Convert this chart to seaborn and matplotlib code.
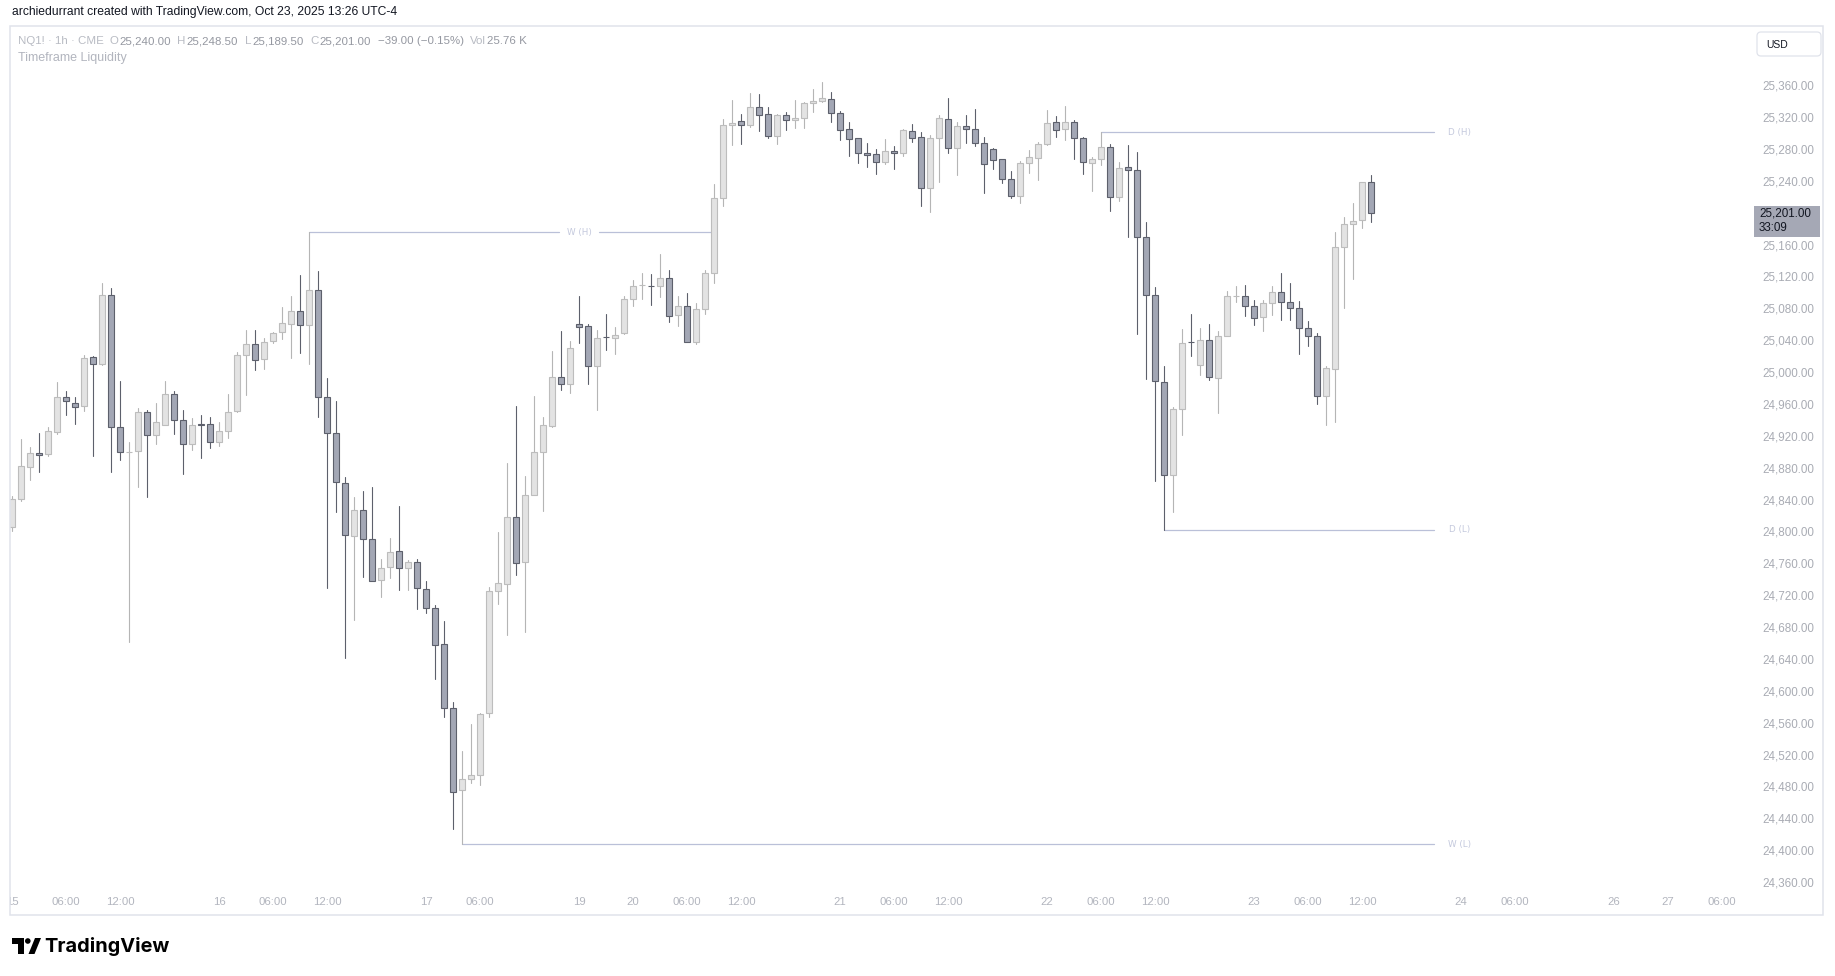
import numpy as np
import pandas as pd
import matplotlib
matplotlib.use("Agg")
import matplotlib.pyplot as plt
from matplotlib import font_manager
from matplotlib.patches import Rectangle, FancyBboxPatch, Polygon, Circle
from matplotlib.transforms import IdentityTransform
import seaborn as sns

# ---------------- data (NQ1! 1h, CME) ----------------
opens = [24807, 24842, 24883, 24900, 24899, 24926, 24970, 24962.5, 24959, 25020.5,
         25011.5, 25098, 24932.5, 24901.5, 24902.5, 24951.5, 24922.5, 24935, 24974, 24941.5,
         24911.5, 24937, 24936.5, 24914, 24927.5, 24952.5, 25023, 25036.5, 25018, 25040.5,
         25051.75, 25061.75, 25078, 25060.5, 25104.5, 24970.25, 24925, 24862.5, 24796, 24828.5,
         24791.75, 24740.75, 24757.5, 24777, 24756.5, 24763, 24730.25, 24705.5, 24660.5, 24580,
         24477, 24490.75, 24495.75, 24573.5, 24727, 24735.75, 24819.5, 24763.5, 24847.5, 24901,
         24933.75, 24995.25, 24986.25, 25062.5, 25059.25, 25009, 25045.5, 25044.25, 25051.25, 25093,
         25110.5, 25109.5, 25109.25, 25119.25, 25073, 25084.5, 25039.25, 25081.5, 25126.5, 25220,
         25311.5, 25316.5, 25311.5, 25334, 25325.25, 25297.75, 25324, 25317.75, 25320.25, 25339,
         25341.5, 25344, 25326.5, 25306.5, 25295.25, 25276.25, 25275, 25265, 25278.75, 25276.25,
         25304, 25296.5, 25232.5, 25295.25, 25319, 25282.5, 25310.25, 25306.5, 25289, 25281.5,
         25268.75, 25243.75, 25222.5, 25263.75, 25270, 25287.5, 25315.25, 25306.5, 25315.25, 25295.25,
         25263.75, 25268.75, 25283.75, 25222, 25258.75, 25255, 25171, 25098.25, 24989.25, 24872.5,
         24955.25, 25039.5, 25010.5, 25041.75, 24994.25, 25046.75, 25097, 25097, 25084.5, 25070.75,
         25088.25, 25102, 25089.5, 25082, 25057, 25046.75, 24971.5, 25005.5, 25158.5, 25187.25,
         25192.25, 25240]
highs = [24846, 24918, 24908, 24925, 24933, 24989.5, 24978, 24970.5, 25023.5, 25021.75,
         25113.5, 25107, 24990.5, 24913.5, 24957, 24954.5, 24963, 24990.5, 24978, 24954.5,
         24944.5, 24948, 24945.5, 24939.5, 24974.5, 25027, 25054, 25054.5, 25044, 25051.5,
         25083.5, 25097.25, 25123.75, 25177.5, 25128.75, 24994.5, 24965.5, 24870, 24845.5, 24852.25,
         24857.25, 24767, 24793.75, 24834, 24766, 24767, 24739.75, 24709, 24689.75, 24587.5,
         24526.5, 24560.25, 24573.5, 24732.25, 24801.25, 24887.5, 24959.5, 24871.75, 24972, 24945.5,
         25028.5, 25053.25, 25040.25, 25097.5, 25061.75, 25054.25, 25074.5, 25057.75, 25097.5, 25117.25,
         25126, 25124.25, 25150, 25130.5, 25097.5, 25100.75, 25088, 25129.5, 25238, 25319.5,
         25343.25, 25325.75, 25351.5, 25350.75, 25334, 25325.25, 25327.75, 25343.25, 25340.25, 25357,
         25365.75, 25352.75, 25329, 25315.25, 25295.5, 25289.25, 25281.5, 25294, 25285, 25306.5,
         25312.75, 25302.75, 25299, 25324, 25345.25, 25315.25, 25324, 25331.5, 25296.5, 25282.5,
         25269, 25253.75, 25266.25, 25280, 25290, 25330.25, 25322.75, 25335.25, 25317.75, 25296.5,
         25271.25, 25302.75, 25288, 25265.5, 25286.75, 25278, 25190.25, 25108.25, 25009.5, 24957.75,
         25056, 25074.75, 25057.25, 25062.25, 25053.5, 25103.75, 25110, 25111.25, 25092.5, 25092.5,
         25110, 25126.25, 25113.75, 25091.25, 25066, 25050.5, 25009.25, 25177.25, 25196, 25213.5,
         25238.75, 25248.5]
lows = [24802, 24840, 24867, 24876, 24897, 24924.5, 24948.5, 24937, 24953.5, 24896,
        25011, 24876, 24891, 24663, 24858, 24844.5, 24911, 24935, 24923.5, 24873.5,
        24904.5, 24894.5, 24906, 24909.5, 24918.5, 24952, 24972.5, 25004, 25005.5, 25038.75,
        25043.75, 25019.25, 25025.5, 25012.5, 24945.25, 24731.5, 24826, 24643, 24690.5, 24745.25,
        24739.25, 24719, 24743.75, 24728.75, 24728.75, 24705, 24700, 24616.25, 24569.5, 24428.75,
        24409.25, 24485.75, 24483.25, 24568.5, 24710.5, 24672.25, 24747.75, 24675.25, 24847, 24828,
        24933, 24978.75, 24975, 25038.75, 24986.25, 24954.5, 25030, 25025, 25049.75, 25084.5,
        25093.5, 25085.5, 25096, 25065, 25060.25, 25039, 25037, 25075, 25113.25, 25210.75,
        25287.25, 25288.5, 25309.75, 25304.75, 25295.25, 25288.5, 25306, 25308.5, 25308.5, 25328.5,
        25340.25, 25316, 25293.5, 25273.5, 25264.5, 25259.5, 25250.75, 25262.75, 25257, 25272.5,
        25290, 25210, 25202.5, 25240, 25276.25, 25248.75, 25289, 25285, 25227, 25256.25,
        25238.75, 25220, 25213.5, 25251.25, 25242.5, 25287, 25296.5, 25292.5, 25268.75, 25250,
        25229.5, 25262, 25204.5, 25217, 25171, 25049, 24992.5, 24865.75, 24804, 24825.75,
        24922.25, 25022.5, 24998.5, 24991.25, 24950, 25046.5, 25089.5, 25072.75, 25060.5, 25052.75,
        25074, 25067.75, 25067.75, 25024, 25034, 24961.5, 24936, 24939.75, 25082.75, 25118,
        25182, 25189.5]
closes = [24842, 24884, 24900, 24897.5, 24927.5, 24970.5, 24965, 24957.5, 25019, 25011.5,
          25098, 24932.5, 24901.5, 24901.5, 24951.5, 24922.5, 24939, 24974, 24941.5, 24911.5,
          24935, 24935, 24914, 24927.5, 24951.5, 25023, 25036.5, 25016.5, 25039, 25050.5,
          25063, 25078, 25060.5, 25104.5, 24970.25, 24925, 24863.75, 24797, 24828.5, 24792.25,
          24739.25, 24756.5, 24775.5, 24756.5, 24763, 24730.75, 24705.5, 24659.5, 24580, 24474.5,
          24490.75, 24495.75, 24572.5, 24727.75, 24737.25, 24820.5, 24762, 24847.5, 24901, 24935.25,
          24995.25, 24986.25, 25031.5, 25058.25, 25010, 25044.25, 25045.25, 25048.75, 25093, 25109.25,
          25111, 25109.25, 25119.25, 25072, 25084.5, 25039.25, 25081.5, 25126.5, 25220, 25311.5,
          25314, 25311.5, 25334, 25324, 25297.75, 25324, 25317.75, 25320.25, 25339, 25341.5,
          25345.25, 25326.5, 25305.25, 25294, 25276.25, 25273.75, 25265, 25278.75, 25276.25, 25305.25,
          25295.25, 25232.5, 25295.25, 25320.25, 25282.5, 25310.25, 25306.5, 25289, 25262.5, 25267.5,
          25243.75, 25222.5, 25263.75, 25271.25, 25287.5, 25314, 25305.25, 25315.25, 25295.25, 25265,
          25268.75, 25283.75, 25222, 25257.5, 25255, 25171, 25098.25, 24990.5, 24872.5, 24955.25,
          25038, 25039.25, 25041.75, 24995.5, 25046.75, 25097, 25097.25, 25084.5, 25069.5, 25088.25,
          25102, 25089.5, 25082, 25057, 25046.75, 24971.5, 25006.75, 25158.5, 25187.25, 25191,
          25240, 25201]

price_ticks = list(range(24360, 25361, 40))
time_tick_pos = [0, 6, 12, 23, 29, 35, 46, 52, 63, 69, 75, 81, 92, 98, 104,
                 115, 121, 127, 138, 144, 150, 161, 167, 178, 184, 190]
time_tick_labels = ["15", "06:00", "12:00", "16", "06:00", "12:00", "17", "06:00", "19",
                    "20", "06:00", "12:00", "21", "06:00", "12:00", "22", "06:00", "12:00",
                    "23", "06:00", "12:00", "24", "06:00", "26", "27", "06:00"]

level_names = ["W (H)", "W (L)", "D (H)", "D (L)"]
level_prices = [25177.5, 24409.25, 25302.75, 24804.0]
level_start_bar = [33, 50, 121, 128]
level_end_bar = [78, 158, 158, 158]
level_label_bar = [63, 160.8, 160.8, 160.8]

header_text = "archiedurrant created with TradingView.com, Oct 23, 2025 13:26 UTC-4"
legend_groups = [[("NQ1! · 1h · CME", "lab")],
                 [("O", "lab"), ("25,240.00", "val")],
                 [("H", "lab"), ("25,248.50", "val")],
                 [("L", "lab"), ("25,189.50", "val")],
                 [("C", "lab"), ("25,201.00", "val")],
                 [("−39.00 (−0.15%)", "val")],
                 [("Vol", "lab"), ("25.76 K", "val")]]
indicator_name = "Timeframe Liquidity"
last_price_text = "25,201.00"
countdown_text = "33:09"

# ---------------- style ----------------
sns.set_theme(style="white")
names = {f.name for f in font_manager.fontManager.ttflist}
UI = "Liberation Sans Narrow" if "Liberation Sans Narrow" in names else "Liberation Sans"
plt.rcParams["font.family"] = [UI, "DejaVu Sans"]

UP_FILL, UP_EDGE, UP_WICK = "#e3e3e3", "#bdbdbd", "#b5b5b5"
DN_FILL, DN_EDGE, DN_WICK = "#a3a7b5", "#5d606c", "#5d606c"
LVL_LINE, LVL_TEXT = "#bac0d8", "#c4c9dd"
AXIS_TXT = "#a9acb4"
DARK = "#131722"
BORDER = "#e0e3eb"

W, H = 1835, 976
def fx(x): return x / W
def fy(y): return 1 - y / H

fig = plt.figure(figsize=(W / 100, H / 100), dpi=100)
fig.patch.set_facecolor("white")
renderer = fig.canvas.get_renderer()

L_PX, R_PX, T_PX, B_PX = 10, 1746, 26, 887
BAR_PX, BAR0_PX = 9.0, 12.0
Y_REF_PX, Y_REF_P, PX_PER_PT = 86.6, 25360, 0.797
xlim = ((L_PX - BAR0_PX) / BAR_PX, (R_PX - BAR0_PX) / BAR_PX)
ylim = (Y_REF_P - (B_PX - Y_REF_PX) / PX_PER_PT, Y_REF_P + (Y_REF_PX - T_PX) / PX_PER_PT)

ax = fig.add_axes([fx(L_PX), fy(B_PX), (R_PX - L_PX) / W, (B_PX - T_PX) / H])
ax.set_facecolor("white")

o = np.array(opens, float); h = np.array(highs, float)
l = np.array(lows, float); c = np.array(closes, float)
idx = np.arange(len(o))
up = c >= o

# wicks drawn with seaborn
wick_df = pd.DataFrame({
    "bar": np.repeat(idx, 2),
    "price": np.column_stack([l, h]).ravel(),
    "dir": np.repeat(np.where(up, "up", "down"), 2),
})
sns.lineplot(data=wick_df, x="bar", y="price", units="bar", estimator=None,
             hue="dir", palette={"up": UP_WICK, "down": DN_WICK},
             legend=False, linewidth=0.8, ax=ax, zorder=2)

# bodies
bottom = np.minimum(o, c)
height = np.abs(c - o)
ax.bar(idx, height, bottom=bottom, width=0.66,
       color=np.where(up, UP_FILL, DN_FILL),
       edgecolor=np.where(up, UP_EDGE, DN_EDGE), linewidth=0.8, zorder=3)

# liquidity levels
for name, p, s, e, lb in zip(level_names, level_prices, level_start_bar, level_end_bar, level_label_bar):
    if lb < e:
        ax.plot([s, lb - 2.2], [p, p], color=LVL_LINE, lw=0.9, zorder=1)
        ax.plot([lb + 2.2, e], [p, p], color=LVL_LINE, lw=0.9, zorder=1)
    else:
        ax.plot([s, e], [p, p], color=LVL_LINE, lw=0.9, zorder=1)
    ax.text(lb, p, name, ha="center", va="center", fontsize=6.3,
            color=LVL_TEXT, family="DejaVu Sans")

ax.set_xlim(*xlim)
ax.set_ylim(*ylim)
ax.set_xlabel(""); ax.set_ylabel("")
ax.set_xticks([]); ax.set_yticks([])
for sp in ax.spines.values():
    sp.set_visible(False)

def fit_size(s, target_w, family=None, weight="normal", base=10.0):
    t = fig.text(0, 0, s, fontsize=base, family=family or [UI, "DejaVu Sans"], fontweight=weight)
    w = t.get_window_extent(renderer).width
    t.remove()
    return base * target_w / w

# price scale
axp = fig.add_axes([fx(R_PX), fy(B_PX), (1823 - R_PX) / W, (B_PX - T_PX) / H])
axp.set_xlim(0, 1823 - R_PX); axp.set_ylim(*ylim); axp.axis("off")
psize = fit_size("25,360.00", 52)
for p in price_ticks:
    axp.text(16.5, p, f"{p:,.2f}", ha="left", va="center", fontsize=psize, color=AXIS_TXT)

# time scale
axt = fig.add_axes([fx(L_PX), fy(915), (R_PX - L_PX) / W, (915 - B_PX) / H])
axt.set_xlim(*xlim); axt.set_ylim(0, 28); axt.axis("off")
tsize = fit_size("06:00", 28.5)
for pos, lab in zip(time_tick_pos, time_tick_labels):
    axt.text(pos, 915 - 902, lab, ha="center", va="center", fontsize=tsize,
             color="#b2b5be", clip_on=True)

ID = IdentityTransform()
def px(x, y): return (x, H - y)

# frame
fig.add_artist(Rectangle(px(9.5, 915), 1813.5, 889.5, transform=ID, fill=False,
                         edgecolor=BORDER, lw=1.1, zorder=10))

# last price tag
fig.add_artist(Rectangle(px(1754, 237), 66, 31.5, transform=ID, facecolor="#a5a8b5",
                         edgecolor="none", zorder=11))
fig.text(fx(1759), fy(213.5), last_price_text, ha="left", va="center", fontsize=psize,
         color=DARK, zorder=12)
fig.text(fx(1759), fy(228), countdown_text, ha="left", va="center", fontsize=psize,
         color=DARK, zorder=12)

# USD box
fig.add_artist(FancyBboxPatch(px(1757, 56), 64, 24, boxstyle="round,pad=0,rounding_size=4",
                              transform=ID, facecolor="white", edgecolor=BORDER, lw=0.9, zorder=11))
fig.text(fx(1766), fy(44.5), "USD", ha="left", va="center",
         fontsize=fit_size("USD", 22), color=DARK, zorder=12)

# header
fig.text(fx(11.7), fy(12.5), header_text, ha="left", va="center",
         fontsize=fit_size(header_text, 386), color=DARK)

# legend
cols = {"lab": "#b8bbc3", "val": "#9598a1"}
widths = []
for g in legend_groups:
    for s, k in g:
        t = fig.text(0, 0, s, fontsize=10)
        widths.append(t.get_window_extent(renderer).width)
        t.remove()
n_groups = len(legend_groups)
gap = 7.0
inner = 1.0
n_inner = sum(len(g) - 1 for g in legend_groups)
scale = (509 - gap * (n_groups - 1) - inner * n_inner) / sum(widths)
lsize = 10 * scale
x = 17.5
k = 0
for gi, g in enumerate(legend_groups):
    for si, (s, kind) in enumerate(g):
        fig.text(fx(x), fy(41.5), s, ha="left", va="center", fontsize=lsize, color=cols[kind])
        x += widths[k] * scale + (inner if si < len(g) - 1 else 0)
        k += 1
    x += gap
fig.text(fx(17.5), fy(58.5), indicator_name, ha="left", va="center",
         fontsize=fit_size(indicator_name, 109), color="#b2b5be")

# TradingView logo
fig.add_artist(Rectangle(px(12, 943.5), 11.5, 5.5, transform=ID, facecolor="#000000", edgecolor="none"))
fig.add_artist(Rectangle(px(17.5, 954), 6, 16, transform=ID, facecolor="#000000", edgecolor="none"))
fig.add_artist(Circle(px(27.8, 941), 2.8, transform=ID, facecolor="#000000", edgecolor="none"))
fig.add_artist(Polygon([px(28.5, 954), px(34.5, 954), px(41, 938), px(35, 938)], closed=True,
                       transform=ID, facecolor="#000000", edgecolor="none"))
logo_font = ["Inter", "DejaVu Sans"]
fig.text(fx(44.5), fy(946.5), "TradingView", ha="left", va="center",
         fontsize=fit_size("TradingView", 125, family=logo_font, weight="bold"),
         family=logo_font, fontweight="bold", color="#000000")

fig.savefig("out.png", dpi=100, facecolor="white")
